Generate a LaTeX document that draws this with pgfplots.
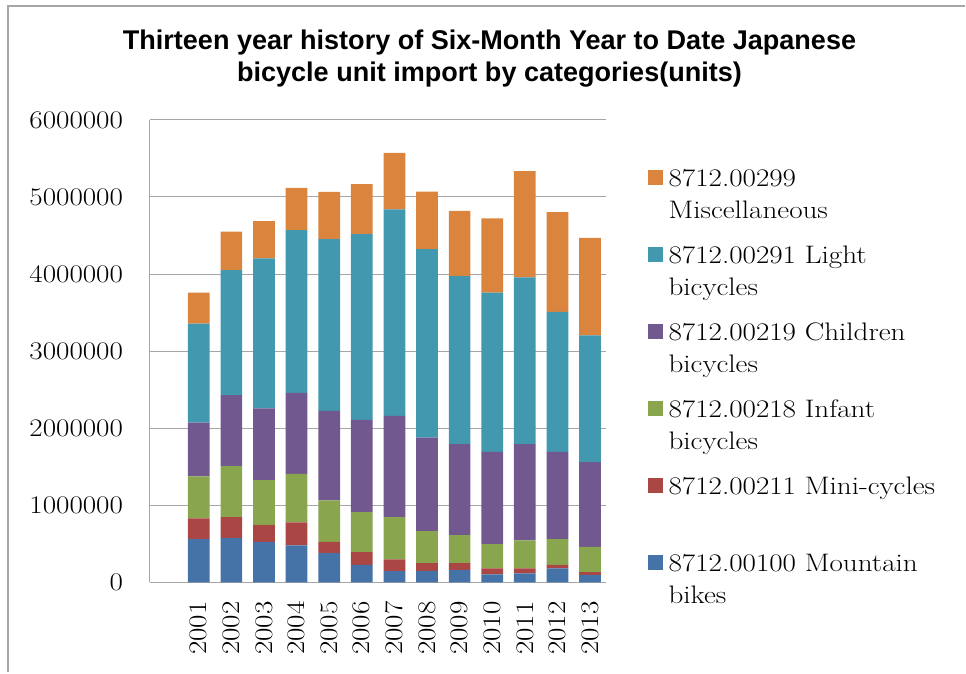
\documentclass[border=0pt]{standalone}
\usepackage{fontspec}
\setmainfont{Latin Modern Roman}[FakeStretch=1.15]
\newfontfamily\titlefont{Liberation Sans}
\usepackage{pgfplots}
\pgfplotsset{compat=1.18}
\usepackage{pgfplotstable}

\definecolor{cMtb}{HTML}{4572A7}
\definecolor{cMini}{HTML}{AA4643}
\definecolor{cInf}{HTML}{89A54E}
\definecolor{cChild}{HTML}{71588F}
\definecolor{cLight}{HTML}{4198AF}
\definecolor{cMisc}{HTML}{DB843D}
\definecolor{gridc}{RGB}{166,166,166}

\newcommand\lf{\fontsize{19}{24}\selectfont}
\newcommand\entry[2]{\parbox[t]{212pt}{\strut #1\\\strut #2}}

% six-month import units, Japan
\pgfplotstableread{
x mtb mini infant child light misc
0 562000 267000 545000 699000 1283000 402000
1 579000 268000 661000 920000 1624000 497000
2 527000 220000 579000 933000 1944000 484000
3 479000 299000 630000 1050000 2112000 549000
4 380000 147000 536000 1162000 2229000 613000
5 229000 164000 518000 1197000 2410000 648000
6 147000 151000 549000 1313000 2678000 734000
7 151000 100000 414000 1214000 2445000 747000
8 164000 87000 362000 1180000 2181000 847000
9 104000 77000 316000 1196000 2065000 963000
10 117000 64000 363000 1249000 2164000 1378000
11 181000 48000 333000 1131000 1815000 1295000
12 99000 35000 328000 1097000 1646000 1266000
}\imports

\begin{document}
\begin{tikzpicture}
\path (0pt,0pt) rectangle (724.5pt,-504.75pt);
\draw[gridc, line width=1.5pt] (6pt,-504.75pt) -- (6pt,-4.5pt) -- (724.5pt,-4.5pt);

\node[anchor=base, font=\titlefont\fontsize{20.3}{24}\selectfont\bfseries]
  at (367.5pt,-37.5pt) {Thirteen year history of Six-Month Year to Date Japanese};
\node[anchor=base, font=\titlefont\fontsize{20.3}{24}\selectfont\bfseries]
  at (367.5pt,-61.5pt) {bicycle unit import by categories(units)};

\begin{axis}[
    at={(112.5pt,-437.25pt)}, anchor=south west,
    scale only axis,
    width=342.75pt, height=347.25pt,
    ybar stacked,
    bar width=16.3pt,
    xmin=-1.5, xmax=12.5,
    ymin=0, ymax=6000000,
    enlargelimits=false,
    xtick={0,...,12},
    xticklabels={2001,2002,2003,2004,2005,2006,2007,2008,2009,2010,2011,2012,2013},
    ytick={0,1000000,...,6000000},
    scaled y ticks=false,
    yticklabel style={/pgf/number format/fixed, /pgf/number format/1000 sep={},
        /pgf/number format/assume math mode=true, font=\lf, inner sep=0pt},
    xticklabel style={rotate=90, anchor=east, font=\lf, inner sep=0pt},
    yticklabel shift=20pt,
    xticklabel shift=14pt,
    major tick length=0pt,
    axis x line*=bottom, axis y line*=left,
    axis line style={gridc, line width=0.75pt},
    ymajorgrids,
    grid style={gridc, line width=0.75pt},
    reverse legend,
    legend cell align=left,
    legend image code/.code={\fill[#1] (0pt,-7pt) rectangle (11.25pt,4.25pt);},
    legend style={at={(1.0897,0.9058)}, anchor=north west, draw=none, fill=none,
        font=\lf, inner sep=0pt, row sep=39.5pt, column sep=4.5pt,
        nodes={inner sep=0pt}},
]
\addplot[fill=cMtb, draw=none] table[x=x, y=mtb] {\imports};
\addplot[fill=cMini, draw=none] table[x=x, y=mini] {\imports};
\addplot[fill=cInf, draw=none] table[x=x, y=infant] {\imports};
\addplot[fill=cChild, draw=none] table[x=x, y=child] {\imports};
\addplot[fill=cLight, draw=none] table[x=x, y=light] {\imports};
\addplot[fill=cMisc, draw=none] table[x=x, y=misc] {\imports};
\legend{{\entry{8712.00100 Mountain}{bikes}},
        {\entry{8712.00211 Mini-cycles}{}},
        {\entry{8712.00218 Infant}{bicycles}},
        {\entry{8712.00219 Children}{bicycles}},
        {\entry{8712.00291 Light}{bicycles}},
        {\entry{8712.00299}{Miscellaneous}}}
\end{axis}
\end{tikzpicture}
\end{document}
